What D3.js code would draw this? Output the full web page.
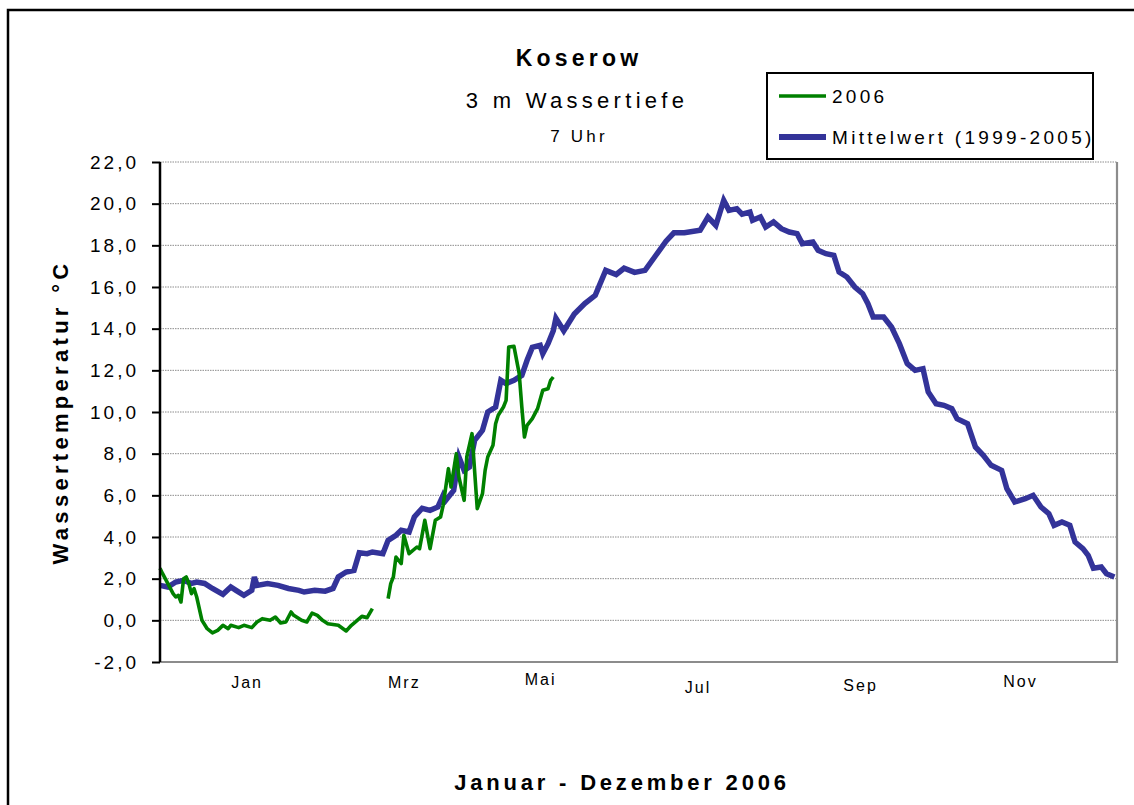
<!DOCTYPE html>
<html>
<head>
<meta charset="utf-8">
<script src="https://cdn.jsdelivr.net/npm/d3@7"></script>
<style>
  body { margin: 0; background: #fff; }
  text { font-family: "Liberation Sans", Arial, sans-serif; fill: #000; }
</style>
</head>
<body>
<svg id="chart" width="1134" height="805"></svg>
<script>
/*--- Data ---*/
// day of year (0 = 1 Jan) and water temperature
const meanDays = [0,3,6,9,12,14,17,20,24,27,29,32,35,36,37,41,45,49,53,55,59,63,66,68,71,74,76,79,81,85,87,90,92,95,97,100,103,106,108,109,112,114,116,118,120,123,125,128,130,132,135,138,140,142,145,146,148,150,151,154,158,162,166,170,174,177,181,185,189,193,196,200,206,209,212,215,217,220,222,225,226,229,231,234,237,240,243,245,249,251,254,257,259,262,265,268,270,272,276,279,282,285,288,291,293,296,299,302,304,308,311,314,317,321,323,326,330,333,336,339,341,344,347,349,352,354,356,359,361,364];
const meanTemps = [1.68,1.6,1.84,1.92,1.77,1.84,1.77,1.53,1.25,1.6,1.44,1.2,1.44,2.08,1.68,1.77,1.68,1.53,1.44,1.36,1.44,1.4,1.53,2.08,2.32,2.4,3.24,3.2,3.28,3.2,3.84,4.08,4.32,4.24,4.96,5.38,5.28,5.44,6.0,5.76,6.24,7.84,7.2,7.36,8.64,9.12,10.0,10.24,11.52,11.36,11.52,11.76,12.48,13.1,13.2,12.8,13.28,13.9,14.5,13.9,14.7,15.2,15.6,16.8,16.6,16.9,16.7,16.8,17.5,18.2,18.6,18.6,18.72,19.36,18.96,20.16,19.68,19.76,19.5,19.6,19.2,19.36,18.88,19.12,18.8,18.64,18.56,18.08,18.16,17.76,17.6,17.52,16.72,16.48,16.0,15.68,15.2,14.56,14.56,14.08,13.28,12.32,12.0,12.08,10.96,10.4,10.32,10.16,9.68,9.44,8.32,7.92,7.44,7.2,6.32,5.68,5.84,6.0,5.44,5.12,4.56,4.72,4.56,3.76,3.44,3.12,2.5,2.56,2.24,2.08];

// 2006: null marks the gap in the record
const days2006 = [0,1,3,5,6,7,8,9,10,11,12,13,14,16,18,20,22,24,26,27,30,32,35,37,39,42,44,46,48,50,51,54,56,58,60,62,64,68,71,73,76,77,79,81,84,87,88,89,90,92,93,95,98,99,101,103,105,107,108,110,111,113,114,116,117,119,121,123,124,125,127,128,129,131,132,133,135,137,138,139,140,142,144,146,148,149,150];
const temps2006 = [2.5,2.24,1.76,1.28,1.12,1.2,0.88,2.0,2.08,1.76,1.28,1.52,1.12,0,-0.4,-0.6,-0.48,-0.24,-0.4,-0.24,-0.35,-0.24,-0.35,-0.08,0.08,0,0.16,-0.13,-0.08,0.4,0.24,0,-0.08,0.35,0.24,0,-0.16,-0.24,-0.51,-0.24,0.08,0.19,0.13,0.56,null,1.04,1.76,2.08,3.04,2.72,4.08,3.2,3.52,3.44,4.8,3.44,4.8,4.96,5.52,7.28,6.4,8.0,6.88,5.76,7.84,8.96,5.36,6.08,7.2,7.84,8.4,9.44,9.84,10.24,10.56,13.12,13.15,11.84,10.24,8.8,9.36,9.68,10.16,11.04,11.12,11.52,11.68];

const yTicks = [-2,0,2,4,6,8,10,12,14,16,18,20,22];
const monthLabels = ["Jan","Mrz","Mai","Jul","Sep","Nov"];
const monthLabelDays = [33,93,145,205,267,328];
const monthLabelDy = [0,0,-3,5,3,-1];   // labels sit a little uneven in the original

const seriesNames = ["2006","Mittelwert (1999-2005)"];
const seriesColors = ["#008000","#333399"];
const seriesWidths = [3.6,5.5];

/*--- Setup ---*/
const svg = d3.select("#chart");
const plot = {left: 160, right: 1117, top: 162, bottom: 662};

const x = d3.scaleLinear().domain([0,365]).range([plot.left, plot.right]);
const y = d3.scaleLinear().domain([-2,22]).range([plot.bottom, plot.top]);

// outer frame, runs off the right and bottom edge like the original
svg.append("rect")
    .attr("x", 8).attr("y", 10)
    .attr("width", 1300).attr("height", 1000)
    .attr("fill", "none")
    .attr("stroke", "#000")
    .attr("stroke-width", 2.5);

/*--- Titles ---*/
svg.append("text")
    .attr("x", 579).attr("y", 66)
    .attr("text-anchor", "middle")
    .style("font-size", "23px").style("font-weight", "bold").style("letter-spacing", "4.2px")
    .text("Koserow");
svg.append("text")
    .attr("x", 577).attr("y", 108)
    .attr("text-anchor", "middle")
    .style("font-size", "22px").style("letter-spacing", "4.3px")
    .text("3 m Wassertiefe");
svg.append("text")
    .attr("x", 579).attr("y", 142)
    .attr("text-anchor", "middle")
    .style("font-size", "17px").style("letter-spacing", "3.2px")
    .text("7 Uhr");

/*--- Grid & plot border ---*/
svg.append("g")
    .selectAll("line")
    .data(yTicks.filter(d => d > -2))
    .join("line")
    .attr("x1", plot.left).attr("x2", plot.right)
    .attr("y1", d => y(d)).attr("y2", d => y(d))
    .attr("stroke", "#8c8c8c")
    .attr("stroke-width", 1)
    .attr("stroke-dasharray", "1.5,1");

svg.append("path")
    .attr("d", `M${plot.right},${plot.top}V${plot.bottom}H${plot.left}`)
    .attr("fill", "none")
    .attr("stroke", "#8c8c8c")
    .attr("stroke-width", 2.2);

/*--- Lines ---*/
const line = d3.line()
    .defined(d => d[1] !== null)
    .x(d => x(d[0]))
    .y(d => y(d[1]));

const meanPts = meanDays.map((d,i) => [d, meanTemps[i]]);
const pts2006 = days2006.map((d,i) => [d, temps2006[i]]);

svg.append("path")
    .datum(meanPts)
    .attr("d", line)
    .attr("fill", "none")
    .attr("stroke", seriesColors[1])
    .attr("stroke-width", seriesWidths[1])
    .attr("stroke-linejoin", "miter");

svg.append("path")
    .datum(pts2006)
    .attr("d", line)
    .attr("fill", "none")
    .attr("stroke", seriesColors[0])
    .attr("stroke-width", seriesWidths[0])
    .attr("stroke-linejoin", "round");

/*--- Axes ---*/
const yAxis = svg.append("g")
    .attr("transform", `translate(${plot.left},0)`)
    .call(d3.axisLeft(y)
        .tickValues(yTicks)
        .tickSize(8)
        .tickPadding(13)
        .tickFormat(d => d3.format(".1f")(d).replace(".", ",").replace("\u2212", "-")));
yAxis.select(".domain")
    .attr("stroke", "#000").attr("stroke-width", 2.5)
    .attr("d", `M0,${plot.top}V${plot.bottom}`);
yAxis.selectAll(".tick line").attr("stroke", "#000").attr("stroke-width", 2);
yAxis.selectAll(".tick text")
    .style("font-size", "19px")
    .style("letter-spacing", "3px")
    .attr("font-family", null);

const xAxis = svg.append("g")
    .attr("transform", `translate(0,${plot.bottom})`)
    .call(d3.axisBottom(x)
        .tickValues(monthLabelDays)
        .tickSize(0)
        .tickPadding(15)
        .tickFormat((d,i) => monthLabels[i]));
xAxis.select(".domain").remove();
xAxis.selectAll(".tick text")
    .style("font-size", "16px")
    .style("letter-spacing", "2px")
    .attr("font-family", null)
    .attr("transform", (d,i) => `translate(0,${monthLabelDy[i]})`);

svg.append("text")
    .attr("transform", "translate(68,412) rotate(-90)")
    .attr("text-anchor", "middle")
    .style("font-size", "22px").style("font-weight", "bold").style("letter-spacing", "4.3px")
    .text("Wassertemperatur °C");

svg.append("text")
    .attr("x", 622).attr("y", 790)
    .attr("text-anchor", "middle")
    .style("font-size", "22px").style("font-weight", "bold").style("letter-spacing", "3.8px")
    .text("Januar - Dezember 2006");

/*--- Legend ---*/
const legend = svg.append("g").attr("transform", "translate(767,73)");
legend.append("rect")
    .attr("width", 326).attr("height", 86)
    .attr("fill", "#fff")
    .attr("stroke", "#000")
    .attr("stroke-width", 2);
const items = legend.selectAll("g.item")
    .data(seriesNames)
    .join("g")
    .attr("class", "item")
    .attr("transform", (d,i) => `translate(0,${i === 0 ? 23 : 64})`);
items.append("line")
    .attr("x1", 12).attr("x2", 59)
    .attr("stroke", (d,i) => seriesColors[i])
    .attr("stroke-width", (d,i) => i === 0 ? 3.5 : 6);
items.append("text")
    .attr("x", 65).attr("dy", "0.36em")
    .style("font-size", "19px")
    .style("letter-spacing", "3.3px")
    .text(d => d);
</script>
</body>
</html>
